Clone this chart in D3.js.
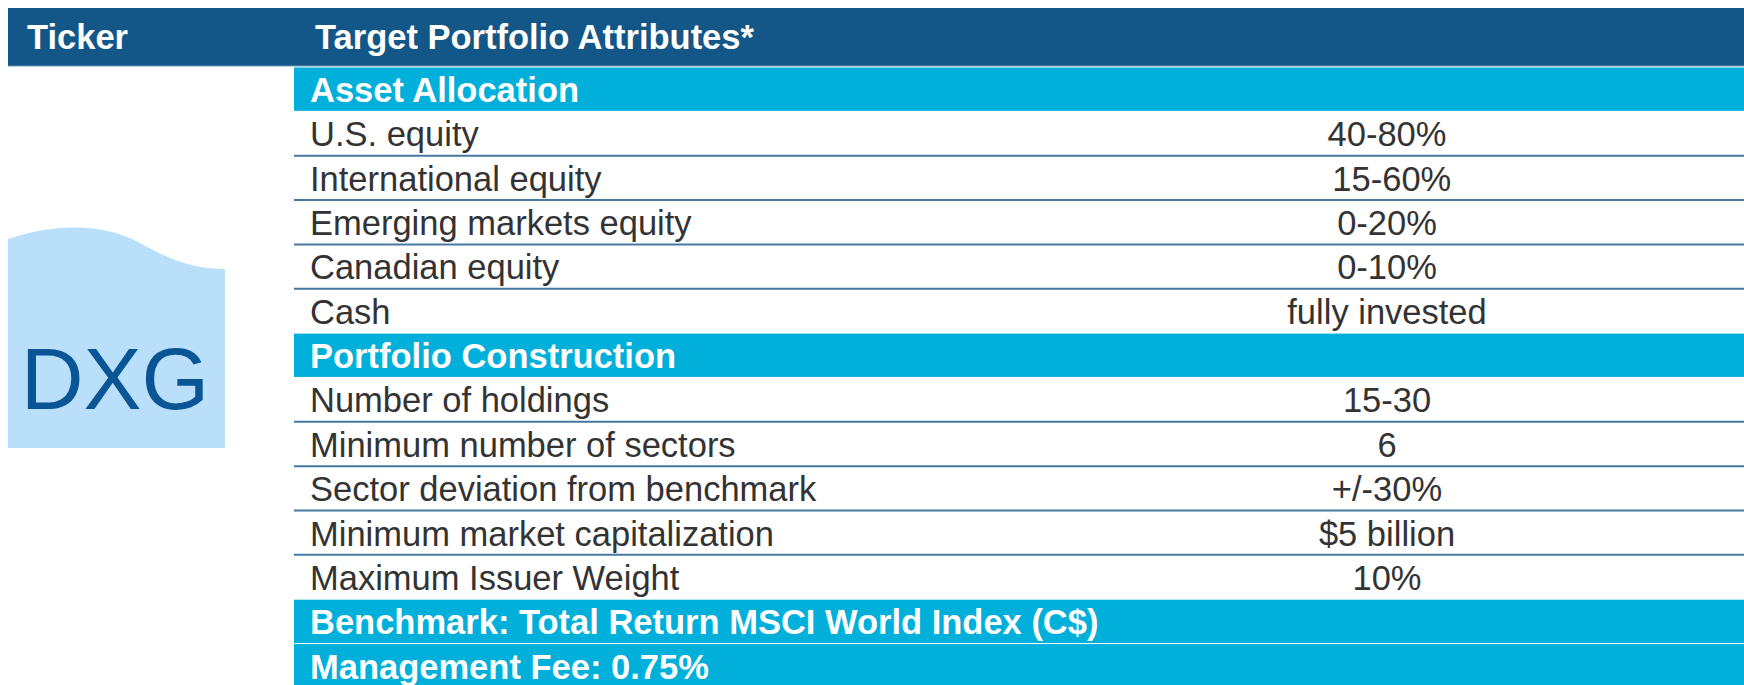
<!DOCTYPE html>
<html>
<head>
<meta charset="utf-8">
<script src="https://cdn.jsdelivr.net/npm/d3@7"></script>
<style>
  body { margin: 0; background: #fff; }
  svg { display: block; font-family: "Liberation Sans", Arial, sans-serif; }
  .val { white-space: pre; }
</style>
</head>
<body>
<svg id="chart" width="1744" height="685"></svg>
<script>
// table content
var ticker = "DXG";
var headers = ["Ticker", "Target Portfolio Attributes*"];
var sections = ["Asset Allocation", "Portfolio Construction"];
var assetLabels = ["U.S. equity", "International equity", "Emerging markets equity", "Canadian equity", "Cash"];
var assetValues = ["40-80%", " 15-60%", "0-20%", "0-10%", "fully invested"];
var constructionLabels = ["Number of holdings", "Minimum number of sectors", "Sector deviation from benchmark", "Minimum market capitalization", "Maximum Issuer Weight"];
var constructionValues = ["15-30", "6", "+/-30%", "$5 billion", "10%"];
var footers = ["Benchmark: Total Return MSCI World Index (C$)", "Management Fee: 0.75%"];

(function () {
  var svg = d3.select("#chart"),
      width = +svg.attr("width");

  // flatten into rows
  var rows = [];
  rows.push({ type: "section", label: sections[0] });
  assetLabels.forEach(function (l, i) { rows.push({ type: "data", label: l, value: assetValues[i] }); });
  rows.push({ type: "section", label: sections[1] });
  constructionLabels.forEach(function (l, i) { rows.push({ type: "data", label: l, value: constructionValues[i] }); });
  footers.forEach(function (l) { rows.push({ type: "section", label: l }); });

  var tableLeft = 294, rowTop = 67, rowH = 44.35, fs = 34.5;

  var y = d3.scaleBand()
      .domain(d3.range(rows.length))
      .range([rowTop, rowTop + rows.length * rowH])
      .paddingInner(0);

  // header bar
  svg.append("rect")
      .attr("x", 8).attr("y", 8)
      .attr("width", width - 8).attr("height", 58)
      .attr("fill", "#135688");
  svg.append("line")
      .attr("x1", 8).attr("x2", width)
      .attr("y1", 66).attr("y2", 66)
      .attr("stroke", "#6d96b8").attr("stroke-width", 1);

  svg.selectAll("text.head")
    .data(headers)
    .enter().append("text")
      .attr("class", "head")
      .attr("x", function (d, i) { return i === 0 ? 27 : 315; })
      .attr("y", 49)
      .attr("fill", "#fff")
      .attr("font-weight", "bold")
      .attr("font-size", fs)
      .text(function (d) { return d; });

  // ticker badge
  svg.append("path")
      .attr("d", "M8,239 C40,228 95,218 140,243 C172,261 195,269 225,269 L225,448 L8,448 Z")
      .attr("fill", "#b9dffb");
  svg.append("text")
      .attr("x", 115).attr("y", 409)
      .attr("text-anchor", "middle")
      .attr("font-size", 87)
      .attr("fill", "#0a5596")
      .text(ticker);

  var row = svg.append("g")
      .attr("class", "rows")
      .selectAll("g")
      .data(rows)
      .enter().append("g")
        .attr("transform", function (d, i) { return "translate(0," + y(i) + ")"; });

  // cyan section bars
  row.filter(function (d) { return d.type === "section"; })
    .append("rect")
      .attr("x", tableLeft)
      .attr("y", 0.5)
      .attr("width", width - tableLeft)
      .attr("height", y.bandwidth() - 1)
      .attr("fill", "#00b0da");

  // divider under data rows
  row.filter(function (d, i) { return d.type === "data" && rows[i + 1] && rows[i + 1].type === "data"; })
    .append("line")
      .attr("x1", tableLeft).attr("x2", width)
      .attr("y1", y.bandwidth()).attr("y2", y.bandwidth())
      .attr("stroke", "#4679a2")
      .attr("stroke-width", 2);

  row.append("text")
      .attr("x", 310)
      .attr("y", 35)
      .attr("font-size", fs)
      .attr("font-weight", function (d) { return d.type === "section" ? "bold" : "normal"; })
      .attr("fill", function (d) { return d.type === "section" ? "#fff" : "#333"; })
      .text(function (d) { return d.label; });

  row.filter(function (d) { return d.type === "data"; })
    .append("text")
      .attr("class", "val")
      .attr("x", 1387)
      .attr("y", 35)
      .attr("text-anchor", "middle")
      .attr("font-size", fs)
      .attr("fill", "#333")
      .text(function (d) { return d.value; });
})();
</script>
</body>
</html>
